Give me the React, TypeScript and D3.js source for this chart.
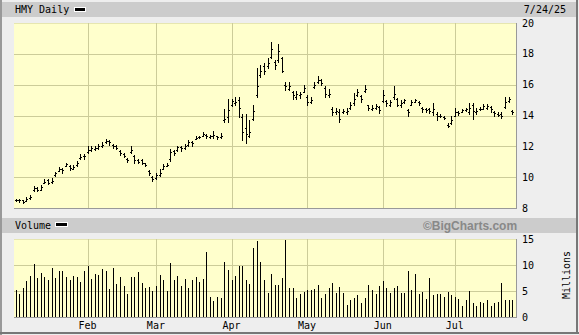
import React from "react";
import * as d3 from "d3";

// ---- Data (HMY daily, Jan 2 – Jul 24, 2025) ----
const closes = [
  8.52, 8.5, 8.42, 8.6, 8.7, 9.29, 9.2, 9.35, 9.71, 9.65, 9.78, 10.26, 10.52, 10.45, 10.86, 10.6, 10.65, 10.95, 11.3, 11.35,
  11.77, 11.88, 11.9, 12.0, 12.1, 12.34, 12.26, 12.0, 11.9, 11.56, 11.4, 11.12, 11.77, 11.1, 11.0, 10.9, 10.78, 10.26, 9.85,
  10.15, 10.3, 10.7, 10.78, 11.66, 11.6, 11.93, 11.87, 12.03, 12.25, 12.2, 12.55, 12.6, 12.8, 12.65, 12.65, 12.75, 12.6, 12.7, 13.8, 14.37,
  14.95, 14.9, 14.5, 12.9, 12.8, 12.9, 14.3, 15.9, 16.9, 16.9, 17.4, 18.3, 17.3, 18.2, 16.9, 15.9, 15.9, 15.35, 15.4, 15.4, 15.8,
  14.9, 15.0, 16.0, 16.3, 16.1, 15.4, 15.4, 14.2, 14.3, 13.8, 14.3, 14.3, 14.7, 15.1, 15.5, 15.1, 15.75, 14.5, 14.5, 14.6, 14.35,
  15.3, 14.8, 14.9, 15.4, 14.7, 14.8, 15.0, 14.2, 14.85, 15.0, 14.8, 14.4, 14.35, 14.3, 14.4, 13.95, 14.0, 13.85, 13.35, 13.7,
  14.2, 14.15, 14.35, 14.4, 14.5, 14.3, 14.3, 14.45, 14.6, 14.6, 14.4, 14.15, 14.05, 14.0, 14.9, 15.1, 14.2,
];
const highs = [
  8.6, 8.58, 8.55, 8.72, 8.85, 9.45, 9.35, 9.5, 9.9, 9.85, 9.95, 10.35, 10.65, 10.6, 10.95, 10.8, 10.8, 11.05, 11.5, 11.5,
  12.05, 12.0, 12.05, 12.15, 12.25, 12.45, 12.4, 12.15, 12.1, 11.75, 11.6, 11.25, 12.0, 11.45, 11.15, 11.2, 10.95, 10.45, 10.05,
  10.3, 10.55, 10.85, 10.9, 11.85, 11.75, 12.05, 12.05, 12.15, 12.4, 12.35, 12.7, 12.7, 12.95, 12.8, 12.75, 13.0, 12.7, 12.85, 14.4, 15.1,
  15.1, 15.2, 15.2, 14.1, 14.1, 13.7, 14.7, 17.1, 17.3, 17.4, 17.7, 18.75, 17.6, 18.65, 17.8, 16.15, 16.15, 15.6, 15.6, 15.55, 16.0,
  15.3, 15.2, 16.2, 16.55, 16.35, 15.9, 15.7, 14.55, 14.5, 14.4, 14.45, 14.5, 14.9, 15.45, 15.75, 15.3, 15.95, 14.7, 14.7, 14.75, 14.6,
  15.65, 15.0, 15.0, 15.9, 15.15, 15.0, 15.1, 14.4, 15.0, 15.1, 14.95, 14.58, 14.5, 14.5, 14.8, 14.2, 14.1, 13.95, 13.5, 13.95,
  14.5, 14.3, 14.45, 14.5, 14.8, 14.8, 14.5, 14.55, 14.75, 14.75, 14.6, 14.3, 14.2, 14.2, 15.2, 15.2, 14.35,
];
const lows = [
  8.45, 8.42, 8.35, 8.45, 8.6, 9.1, 9.08, 9.15, 9.6, 9.55, 9.65, 10.1, 10.4, 10.3, 10.7, 10.45, 10.5, 10.75, 11.2, 11.2,
  11.6, 11.7, 11.75, 11.85, 11.95, 12.2, 12.1, 11.9, 11.8, 11.45, 11.3, 11.0, 11.6, 10.95, 10.9, 10.85, 10.7, 10.15, 9.75,
  9.85, 10.1, 10.5, 10.7, 11.05, 11.45, 11.7, 11.7, 11.85, 12.05, 12.05, 12.45, 12.55, 12.65, 12.55, 12.55, 12.55, 12.5, 12.55, 13.6, 13.6,
  14.6, 14.7, 13.9, 12.4, 12.2, 12.6, 13.7, 15.2, 16.5, 16.7, 17.1, 17.7, 17.0, 17.5, 16.85, 15.65, 15.65, 15.1, 15.1, 15.15, 15.5,
  14.7, 14.8, 15.8, 16.1, 15.95, 15.2, 15.2, 14.05, 14.1, 13.6, 14.15, 14.1, 14.45, 14.7, 15.25, 14.9, 15.55, 14.35, 14.35, 14.45, 14.15,
  14.9, 14.6, 14.6, 15.1, 14.6, 14.55, 14.8, 14.0, 14.65, 14.85, 14.65, 14.25, 14.2, 14.15, 14.05, 13.7, 13.9, 13.75, 13.25, 13.45,
  13.95, 14.05, 14.2, 14.3, 14.1, 13.8, 14.1, 14.35, 14.4, 14.45, 14.2, 14.0, 14.0, 13.85, 14.5, 14.9, 14.1,
];
const opens = [
  8.5, 8.55, 8.5, 8.48, 8.62, 9.15, 9.3, 9.2, 9.62, 9.8, 9.7, 10.15, 10.42, 10.55, 10.72, 10.75, 10.55, 10.8, 11.22, 11.4,
  11.65, 11.75, 11.85, 11.9, 12.0, 12.25, 12.35, 12.1, 12.0, 11.7, 11.5, 11.2, 11.65, 11.4, 11.1, 11.1, 10.9, 10.4, 10.0,
  9.95, 10.15, 10.55, 10.75, 11.15, 11.7, 11.75, 11.95, 11.9, 12.1, 12.3, 12.5, 12.6, 12.7, 12.75, 12.6, 12.65, 12.65, 12.6, 13.7, 13.9,
  14.7, 14.8, 15.0, 13.9, 13.2, 12.7, 13.8, 15.3, 16.6, 17.2, 17.2, 17.8, 17.5, 17.6, 17.7, 16.0, 15.7, 15.5, 15.2, 15.3, 15.55,
  15.2, 14.9, 15.85, 16.15, 16.3, 15.8, 15.3, 14.45, 14.2, 14.2, 14.2, 14.2, 14.5, 14.8, 15.3, 15.25, 15.6, 14.65, 14.45, 14.5, 14.55,
  14.95, 14.95, 14.7, 15.2, 15.1, 14.7, 14.9, 14.35, 14.7, 14.9, 14.9, 14.5, 14.45, 14.4, 14.2, 14.1, 13.95, 13.9, 13.4, 13.5,
  14.0, 14.2, 14.25, 14.35, 14.2, 14.7, 14.2, 14.4, 14.45, 14.5, 14.55, 14.25, 14.1, 14.1, 14.55, 14.95, 14.3,
];
const volumes = [
  5.1, 4.5, 5.5, 6.9, 7.9, 10.2, 7.5, 8.4, 7.6, 7.1, 9.4, 7.5, 8.8, 8.8, 7.7, 7.1, 7.8, 7.6, 6.7, 8.8,
  9.9, 7.3, 8.2, 8.1, 9.2, 8.8, 5.3, 9.4, 6.4, 7.7, 6.0, 4.4, 7.7, 7.7, 8.6, 6.5, 5.5, 5.8, 5.0,
  6.0, 8.1, 7.1, 5.0, 10.4, 7.1, 7.9, 6.0, 7.3, 5.5, 7.1, 7.6, 6.8, 7.4, 12.5, 3.8, 3.1, 3.8, 3.6, 10.6, 9.0,
  7.1, 7.8, 9.9, 9.9, 7.1, 6.3, 13.2, 14.7, 10.5, 7.1, 4.7, 8.2, 6.2, 6.2, 7.5, 14.8, 5.6, 5.6, 3.6, 4.4, 4.9,
  5.1, 5.1, 5.3, 6.1, 3.7, 4.5, 5.5, 6.5, 4.7, 5.8, 4.7, 2.4, 3.2, 3.6, 4.2, 2.6, 3.7, 6.1, 5.1, 4.4, 6.0,
  6.9, 5.5, 4.7, 5.5, 6.0, 4.7, 4.7, 8.9, 5.1, 8.2, 4.4, 4.9, 3.4, 7.5, 4.2, 4.5, 4.5, 3.8, 4.8, 4.2,
  3.8, 3.4, 2.2, 3.2, 5.0, 2.6, 2.1, 2.9, 2.7, 3.2, 2.1, 2.7, 2.9, 6.5, 3.2, 3.2, 3.2,
];
const monthLabels = ["Feb", "Mar", "Apr", "May", "Jun", "Jul"];
const monthStartIdx = [20, 39, 60, 81, 102, 122];
const priceTicks = [8, 10, 12, 14, 16, 18, 20];
const volumeTicks = [0, 5, 10, 15];
const titleText = "HMY Daily";
const dateText = "7/24/25";
const volumeTitle = "Volume";
const watermark = "\u00A9BigCharts.com";
const volumeUnit = "Millions";

// ---- Layout ----
const W = 579;
const H = 335;
const plotL = 14;
const plotR = 516;
const priceTop = 23;
const priceBot = 208;
const volTop = 239;
const volBot = 317;
const mono = "'DejaVu Sans Mono', monospace";
const gridColor = "#cccc99";
const plotFill = "#ffffcc";

export default function App() {
  const n = closes.length;
  const x = d3.scaleLinear().domain([0, n - 1]).range([15.5, 15.5 + 3.6 * (n - 1)]);
  const yP = d3.scaleLinear().domain([8, 20]).range([priceBot, priceTop]);
  const yV = d3.scaleLinear().domain([0, 15]).range([volBot, volTop]);
  const idx = d3.range(n);

  return (
    <svg
      width={W}
      height={H}
      style={{ position: "absolute", left: 0, top: 0, display: "block" }}
      shapeRendering="crispEdges"
    >
      <rect x={0} y={0} width={W} height={H} fill="#eeeeee" />
      {/* outer frame */}
      <rect x={0} y={0} width={2} height={H} fill="#999999" />
      <rect x={0} y={H - 3} width={W} height={2} fill="#777777" />
      <rect x={W - 3} y={0} width={2} height={H - 1} fill="#777777" />

      {/* header bands */}
      <rect x={2} y={2} width={W - 5} height={15} fill="#cccccc" />
      <rect x={2} y={218} width={W - 5} height={15} fill="#cccccc" />

      <text x={15} y={13} fontFamily={mono} fontSize={10} fill="#000">{titleText}</text>
      <rect x={74} y={7} width={12} height={5} fill="#fff" />
      <rect x={75} y={8} width={10} height={3} fill="#000" />
      <text x={566} y={13} fontFamily={mono} fontSize={10} fill="#000" textAnchor="end">{dateText}</text>

      <text x={15} y={229} fontFamily={mono} fontSize={10} fill="#000">{volumeTitle}</text>
      <rect x={55} y={222} width={13} height={5} fill="#fff" />
      <rect x={56} y={223} width={11} height={3} fill="#000" />
      <text
        x={470}
        y={230}
        fontFamily="'Liberation Sans', Arial, sans-serif"
        fontWeight="bold"
        fontSize={12}
        fill="#888888"
        textAnchor="middle"
      >
        {watermark}
      </text>

      {/* price plot */}
      <rect x={plotL} y={priceTop} width={plotR - plotL} height={priceBot - priceTop} fill={plotFill} />
      {priceTicks.slice(1, -1).map((t) => (
        <rect key={"pg" + t} x={plotL} y={Math.round(yP(t))} width={plotR - plotL} height={1} fill={gridColor} />
      ))}
      <rect x={plotL} y={priceTop} width={plotR - plotL} height={1} fill="#e6e6b0" />
      {monthStartIdx.map((m) => (
        <rect key={"pv" + m} x={Math.round(x(m))} y={priceTop} width={1} height={priceBot - priceTop} fill={gridColor} />
      ))}
      <rect x={plotL} y={priceBot} width={plotR - plotL + 1} height={1} fill="#999999" />
      <rect x={plotR} y={priceTop} width={1} height={priceBot - priceTop + 1} fill="#999999" />

      {idx.map((i) => {
        const cx = Math.round(x(i));
        const yh = Math.round(yP(highs[i]));
        const yl = Math.round(yP(lows[i]));
        return (
          <g key={"b" + i} fill="#000">
            <rect x={cx} y={yh} width={1} height={Math.max(1, yl - yh + 1)} />
            <rect x={cx - 1} y={Math.round(yP(opens[i]))} width={1} height={1} />
            <rect x={cx + 1} y={Math.round(yP(closes[i]))} width={1} height={1} />
          </g>
        );
      })}

      {priceTicks.map((t) => (
        <text key={"pt" + t} x={522} y={yP(t) + 3.5} fontFamily={mono} fontSize={10} fill="#000">
          {t}
        </text>
      ))}

      {/* volume plot */}
      <rect x={plotL} y={volTop} width={plotR - plotL} height={volBot - volTop} fill={plotFill} />
      {volumeTicks.slice(1, -1).map((t) => (
        <rect key={"vg" + t} x={plotL} y={Math.round(yV(t))} width={plotR - plotL} height={1} fill={gridColor} />
      ))}
      <rect x={plotL} y={volTop} width={plotR - plotL} height={1} fill="#e6e6b0" />
      {monthStartIdx.map((m) => (
        <rect key={"vv" + m} x={Math.round(x(m))} y={volTop} width={1} height={volBot - volTop} fill={gridColor} />
      ))}
      {idx.map((i) => {
        const cx = Math.round(x(i));
        const yt = Math.round(yV(volumes[i]));
        return <rect key={"v" + i} x={cx} y={yt} width={1} height={volBot - yt} fill="#000" />;
      })}
      <rect x={plotL} y={volBot} width={plotR - plotL + 1} height={1} fill="#999999" />
      <rect x={plotR} y={volTop} width={1} height={volBot - volTop + 1} fill="#999999" />

      {volumeTicks.map((t) => (
        <text key={"vt" + t} x={522} y={yV(t) + 3.5} fontFamily={mono} fontSize={10} fill="#000">
          {t}
        </text>
      ))}
      <text
        x={0}
        y={0}
        transform={`translate(570, 275) rotate(-90)`}
        fontFamily={mono}
        fontSize={10}
        fill="#000"
        textAnchor="middle"
      >
        {volumeUnit}
      </text>

      {monthLabels.map((lab, k) => (
        <text
          key={"m" + lab}
          x={x(monthStartIdx[k])}
          y={329}
          fontFamily={mono}
          fontSize={10}
          fill="#000"
          textAnchor="middle"
        >
          {lab}
        </text>
      ))}
    </svg>
  );
}
